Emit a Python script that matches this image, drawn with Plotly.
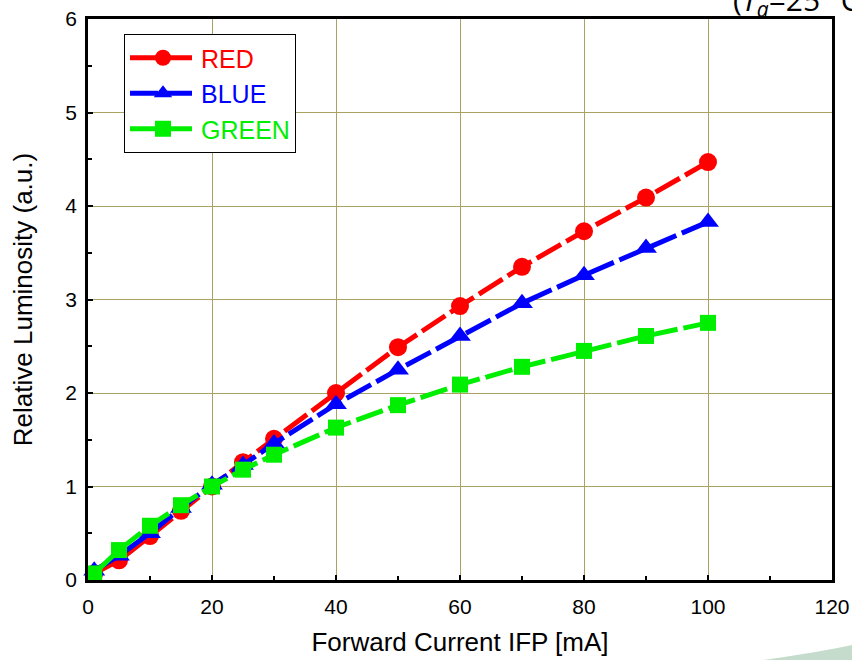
import plotly.graph_objects as go

current = [1, 5, 10, 15, 20, 25, 30, 40, 50, 60, 70, 80, 90, 100]
red = [0.07, 0.21, 0.47, 0.74, 1.0, 1.26, 1.51, 2.0, 2.49, 2.93, 3.35, 3.73, 4.09, 4.47]
blue = [0.10, 0.26, 0.50, 0.77, 1.02, 1.23, 1.46, 1.88, 2.25, 2.61, 2.96, 3.26, 3.55, 3.83]
green = [0.07, 0.32, 0.58, 0.80, 1.0, 1.18, 1.34, 1.63, 1.87, 2.09, 2.28, 2.45, 2.61, 2.75]

series_names = ["RED", "BLUE", "GREEN"]
series_colors = ["#ff0000", "#0000ff", "#00ee00"]
series_symbols = ["circle", "triangle-up", "square"]
series_sizes = [18, 19, 16]
series_values = [red, blue, green]

x_ticks = [0, 20, 40, 60, 80, 100, 120]
y_ticks = [0, 1, 2, 3, 4, 5, 6]

FONT = "Liberation Sans, Arial, sans-serif"

fig = go.Figure()
for name, color, sym, size, vals in zip(series_names, series_colors, series_symbols, series_sizes, series_values):
    fig.add_trace(go.Scatter(
        x=current, y=vals, mode="lines+markers",
        name=f"<span style='color:{color}'>{name}</span>",
        line=dict(color=color, width=5, dash="28px,6px"),
        marker=dict(color=color, symbol=sym, size=size, line=dict(width=0)),
        cliponaxis=False,
    ))

W, H = 852, 660
L, R, T, B = 88, 20, 19, 80
pw = W - L - R
ph = H - T - B

grid_color = "#a9a260"

fig.update_layout(
    width=W, height=H,
    margin=dict(l=L, r=R, t=T, b=B, pad=0, autoexpand=False),
    paper_bgcolor="white", plot_bgcolor="white",
    font=dict(family=FONT, size=21, color="black"),
    showlegend=True,
    legend=dict(
        x=(124 - L) / pw, y=1 - (34 - T) / ph, xanchor="left", yanchor="top",
        bgcolor="white", bordercolor="black", borderwidth=1,
        font=dict(family=FONT, size=25),
        itemwidth=66, tracegroupgap=0,
    ),
    xaxis=dict(
        range=[0, 120], tickvals=x_ticks, ticktext=[str(v) for v in x_ticks],
        showgrid=True, gridcolor=grid_color, gridwidth=1,
        showline=True, linecolor="black", linewidth=2.5, mirror=True,
        ticks="inside", ticklen=5, tickcolor="black", tickwidth=1.5,
        minor=dict(tickvals=[10, 30, 50, 70, 90, 110], ticks="inside", ticklen=4, tickcolor="black", tickwidth=1.5, showgrid=False),
        zeroline=False, ticklabelstandoff=6, automargin=False,
        tickfont=dict(family=FONT, size=21),
        title=dict(text="Forward Current IFP [mA]", font=dict(family=FONT, size=26), standoff=16),
    ),
    yaxis=dict(
        range=[0, 6], tickvals=y_ticks, ticktext=[str(v) for v in y_ticks],
        showgrid=True, gridcolor=grid_color, gridwidth=1,
        showline=True, linecolor="black", linewidth=2.5, mirror=True,
        ticks="inside", ticklen=5, tickcolor="black", tickwidth=1.5,
        minor=dict(tickvals=[0.5, 1.5, 2.5, 3.5, 4.5, 5.5], ticks="inside", ticklen=4, tickcolor="black", tickwidth=1.5, showgrid=False),
        zeroline=False, ticklabelstandoff=4, automargin=False,
        tickfont=dict(family=FONT, size=21),
        title=dict(text="Relative Luminosity (a.u.)", font=dict(family=FONT, size=26), standoff=26),
    ),
)

fig.add_annotation(
    xref="paper", yref="paper",
    x=(731 - L) / pw, y=1 + (T - 25) / ph,
    xanchor="left", yanchor="bottom",
    text="(<i>T</i><sub><i>a</i></sub>=25 °C)",
    showarrow=False,
    font=dict(family="Open Sans, sans-serif", size=30, color="black"),
)

# faint decorative swoosh in the bottom-right corner
fig.add_shape(
    type="path", xref="paper", yref="paper", layer="below",
    path=f"M {(760 - L) / pw} {-(660 - T - ph + 0.5) / ph} "
         f"Q {(820 - L) / pw} {-(652 - T - ph) / ph} {(852 - L) / pw} {-(645 - T - ph) / ph} "
         f"L {(852 - L) / pw} {-(660 - T - ph) / ph} Z",
    fillcolor="rgba(150,190,160,0.55)", line=dict(width=0),
)

fig.write_html(
    "out.html",
    config={"displayModeBar": False},
    post_script="document.body.style.margin='0';document.body.style.overflow='hidden';",
)
